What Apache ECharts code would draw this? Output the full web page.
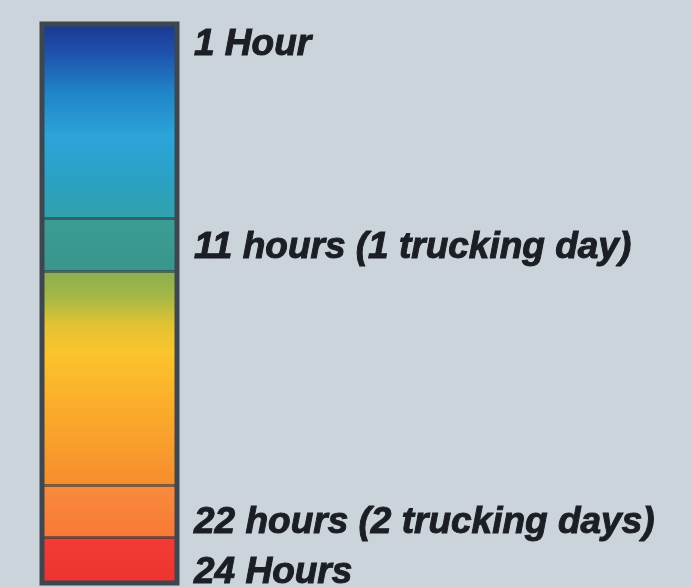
<!DOCTYPE html>
<html>
<head>
<meta charset="utf-8">
<script src="https://cdn.jsdelivr.net/npm/echarts@6/dist/echarts.min.js"></script>
<style>
    html,body{margin:0;padding:0;background:#cbd3db;}
    #main{width:691px;height:587px;}
</style>
</head>
<body>
<div id="main"></div>
<script>
//scale along the bar, 0 = top, 100 = bottom
var bandEdges=[0,34.7,44.2,82.6,91.8,100];
var labelValues=[3.7,40.0,89.2,98.2];
var labelTexts=["1 Hour","11 hours (1 trucking day)","22 hours (2 trucking days)","24 Hours"];

//colour of each band, top to bottom
var bandStops=[
    [[0,"#1a3890"],[0.15,"#1e52ad"],[0.35,"#1f84c6"],[0.58,"#2ca4da"],[0.8,"#2aa1c4"],[1,"#33a2ae"]],
    [[0,"#3b9d96"],[1,"#39968c"]],
    [[0,"#89ae52"],[0.12,"#a4b845"],[0.25,"#e3c233"],[0.38,"#fbc42c"],[0.6,"#fbaf2b"],[0.85,"#f89a2d"],[1,"#f68c2e"]],
    [[0,"#f98b3c"],[1,"#f87936"]],
    [[0,"#f23c33"],[1,"#ee3330"]]
];

function grad(stops)
{
    var list=[];
    for(var i=0;i<stops.length;i++)
    {
        list.push({offset:stops[i][0],color:stops[i][1]});
    }
    return new echarts.graphic.LinearGradient(0,0,0,1,list);
}

var series=[];
for(var i=0;i<bandStops.length;i++)
{
    series.push({
        type:"bar",
        stack:"total",
        barWidth:"100%",
        silent:true,
        data:[bandEdges[i+1]-bandEdges[i]],
        itemStyle:{color:grad(bandStops[i])}
    });
}

//divider lines between bands
var dividers=[];
for(var i=1;i<bandEdges.length-1;i++)
{
    dividers.push({yAxis:bandEdges[i]});
}
series[series.length-1].markLine={
    silent:true,
    symbol:"none",
    label:{show:false},
    lineStyle:{type:"solid",color:"rgba(45,55,65,0.6)",width:3},
    data:dividers
};

var myChart=echarts.init(document.getElementById("main"));
var option={
    backgroundColor:"#cbd3db",
    animation:false,
    grid:{
        left:42,top:24,width:135,height:559,
        outerBoundsMode:"none",
        show:true,z:10,
        backgroundColor:"transparent",
        borderColor:"#3e464f",borderWidth:5
    },
    xAxis:{type:"category",data:["legend"],show:false},
    yAxis:{
        type:"value",
        inverse:true,
        min:0,max:100,
        position:"right",
        splitLine:{show:false},
        axisLine:{show:false},
        axisTick:{show:false},
        axisLabel:{
            customValues:labelValues,
            margin:17,
            color:"#1b1e24",
            textBorderColor:"#1b1e24",
            textBorderWidth:1,
            fontSize:37,
            fontWeight:"bold",
            fontStyle:"italic",
            fontFamily:"Liberation Sans, Arial, sans-serif",
            formatter:function(v)
            {
                var k=labelValues.indexOf(v);
                return k<0?"":labelTexts[k];
            }
        }
    },
    series:series
};
myChart.setOption(option);
</script>
</body>
</html>
